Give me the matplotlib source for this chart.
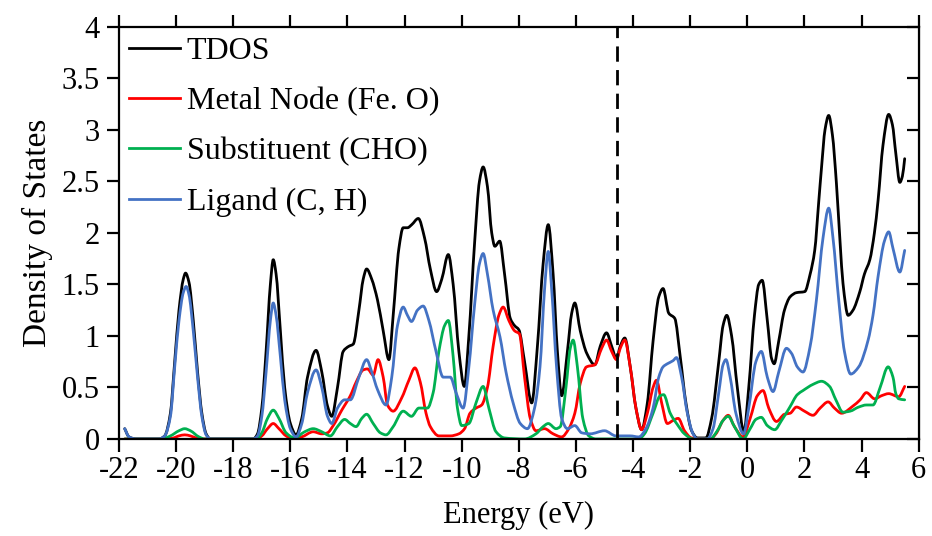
import matplotlib
matplotlib.use("Agg")
import matplotlib.pyplot as plt
import numpy as np
from matplotlib.path import Path
from matplotlib.patches import PathPatch
from matplotlib.lines import Line2D

plt.rcParams['font.family'] = ['Liberation Serif', 'DejaVu Serif']
plt.rcParams['axes.unicode_minus'] = False

# TDOS
e_tdos = [-21.8, -21.65, -21.4, -20.6, -20.4, -20.2, -20.05, -19.9, -19.75, -19.67, -19.55, -19.4, -19.25, -19.1, -18.95, -18.8,
          -17.3, -17.15, -17.0, -16.85, -16.7, -16.6, -16.5, -16.35, -16.2, -16.0, -15.8, -15.6, -15.4, -15.1, -14.9, -14.7,
          -14.55, -14.35, -14.15, -13.95, -13.8, -13.6, -13.45, -13.33, -13.15, -12.95, -12.75, -12.55, -12.4, -12.2, -12.05,
          -11.9, -11.75, -11.52, -11.3, -11.1, -10.88, -10.7, -10.47, -10.3, -10.1, -9.91, -9.75, -9.55, -9.38, -9.25, -9.1,
          -8.95, -8.84, -8.67, -8.5, -8.3, -8.15, -8.0, -7.8, -7.55, -7.35, -7.15, -6.97, -6.8, -6.65, -6.5, -6.3, -6.15, -6.04,
          -5.85, -5.62, -5.34, -5.15, -4.93, -4.75, -4.58, -4.45, -4.29, -4.1, -3.9, -3.7, -3.5, -3.3, -3.1, -2.95, -2.75, -2.54,
          -2.35, -2.15, -1.95, -1.75, -1.45, -1.25, -1.0, -0.85, -0.72, -0.55, -0.35, -0.12, 0.05, 0.25, 0.4, 0.52, 0.7, 0.85,
          0.94, 1.1, 1.3, 1.5, 1.72, 2.01, 2.2, 2.36, 2.5, 2.6, 2.72, 2.85, 2.98, 3.12, 3.25, 3.35, 3.53, 3.7, 3.94, 4.1, 4.29,
          4.45, 4.58, 4.75, 4.95, 5.08, 5.2, 5.34, 5.43, 5.51]
tdos = [0.10, 0.02, 0.0, 0.0, 0.03, 0.25, 0.75, 1.25, 1.55, 1.61, 1.52, 1.15, 0.65, 0.25, 0.05, 0.0,
        0.0, 0.05, 0.3, 0.85, 1.5, 1.74, 1.6, 1.05, 0.5, 0.15, 0.04, 0.2, 0.6, 0.86, 0.65, 0.32,
        0.22, 0.5, 0.85, 0.9, 0.92, 1.25, 1.55, 1.65, 1.55, 1.35, 1.05, 0.77, 1.2, 1.85, 2.05,
        2.05, 2.08, 2.14, 1.95, 1.65, 1.43, 1.55, 1.79, 1.5, 0.85, 0.51, 1.0, 1.9, 2.5, 2.64, 2.45,
        2.0, 1.87, 1.92, 1.6, 1.17, 1.1, 1.06, 0.75, 0.35, 0.9, 1.7, 2.08, 1.6, 0.85, 0.42, 0.85, 1.22, 1.32,
        1.05, 0.83, 0.72, 0.9, 1.03, 0.9, 0.78, 0.9, 0.98, 0.7, 0.3, 0.09, 0.35, 0.95, 1.38, 1.46, 1.22, 1.17,
        0.8, 0.35, 0.08, 0.01, 0.01, 0.2, 0.75, 1.1, 1.2, 1.0, 0.5, 0.07, 0.5, 1.2, 1.5, 1.54, 1.15, 0.78,
        0.73, 0.95, 1.25, 1.38, 1.42, 1.43, 1.6, 1.83, 2.3, 2.64, 3.0, 3.14, 2.95, 2.48, 1.9, 1.51, 1.2, 1.25, 1.43, 1.6, 1.74,
        2.0, 2.32, 2.85, 3.15, 3.05, 2.77, 2.49, 2.55, 2.72]

# Metal Node (Fe. O)
e_metal = [-21.8, -20.4, -20.1, -19.9, -19.7, -19.5, -19.3, -19.1, -17.2, -17.0, -16.8, -16.6, -16.4, -16.15, -15.9, -15.6,
           -15.2, -14.9, -14.7, -14.5, -14.2, -13.9, -13.7, -13.45, -13.3, -13.1, -12.93, -12.75, -12.6, -12.4, -12.1, -11.85,
           -11.64, -11.45, -11.25, -11.1, -10.8, -10.4, -10.1, -9.9, -9.71, -9.5, -9.3, -9.1, -8.9, -8.7, -8.55, -8.35, -8.15,
           -7.98, -7.8, -7.6, -7.4, -7.1, -6.8, -6.5, -6.25, -6.04, -5.85, -5.63, -5.34, -5.1, -4.93, -4.75, -4.58, -4.45,
           -4.29, -4.1, -3.9, -3.7, -3.5, -3.3, -3.18, -3.0, -2.8, -2.6, -2.42, -2.2, -1.95, -1.3, -1.1, -0.85, -0.67, -0.45,
           -0.15, 0.1, 0.35, 0.55, 0.75, 1.02, 1.3, 1.5, 1.72, 2.0, 2.3, 2.55, 2.83, 3.05, 3.3, 3.7, 3.95, 4.17, 4.46, 4.7,
           4.95, 5.3, 5.51]
metal = [0.0, 0.0, 0.01, 0.03, 0.04, 0.03, 0.01, 0.0, 0.0, 0.03, 0.1, 0.15, 0.1, 0.03, 0.0, 0.02,
         0.07, 0.05, 0.06, 0.13, 0.28, 0.42, 0.55, 0.67, 0.68, 0.62, 0.77, 0.6, 0.33, 0.27, 0.4, 0.57,
         0.69, 0.55, 0.25, 0.12, 0.03, 0.03, 0.05, 0.1, 0.25, 0.3, 0.33, 0.5, 0.9, 1.2, 1.28, 1.15, 1.05,
         1.02, 0.6, 0.2, 0.08, 0.1, 0.05, 0.02, 0.1, 0.25, 0.54, 0.7, 0.72, 0.88, 0.96, 0.85, 0.77, 0.88,
         0.96, 0.7, 0.3, 0.09, 0.25, 0.5, 0.57, 0.35, 0.15, 0.18, 0.2, 0.08, 0.01, 0.0, 0.05, 0.18, 0.23, 0.12,
         0.02, 0.2, 0.42, 0.47, 0.3, 0.17, 0.24, 0.25, 0.31, 0.27, 0.23, 0.3, 0.36, 0.3, 0.25, 0.32, 0.38, 0.45, 0.39, 0.42,
         0.44, 0.41, 0.51]

# Substituent (CHO)
e_subst = [-21.8, -20.5, -20.2, -19.9, -19.7, -19.5, -19.2, -19.0, -17.2, -17.0, -16.8, -16.6, -16.4, -16.15, -15.85, -15.5,
           -15.2, -14.9, -14.6, -14.35, -14.1, -13.9, -13.7, -13.5, -13.33, -13.1, -12.85, -12.65, -12.4, -12.05, -11.76, -11.5,
           -11.2, -11.0, -10.8, -10.6, -10.47, -10.3, -10.15, -10.0, -9.75, -9.5, -9.25, -9.05, -8.8, -8.5, -7.8, -7.4, -7.15,
           -6.97, -6.7, -6.55, -6.35, -6.2, -6.1, -5.95, -5.76, -5.55, -5.3, -3.8, -3.6, -3.3, -3.05, -2.93, -2.7, -2.45, -2.2,
           -1.9, -1.3, -1.05, -0.85, -0.67, -0.45, -0.15, 0.1, 0.3, 0.49, 0.7, 0.96, 1.2, 1.49, 1.75, 1.95, 2.3, 2.6, 2.88,
           3.1, 3.35, 3.6, 3.9, 4.17, 4.4, 4.65, 4.93, 5.1, 5.2, 5.3, 5.51]
subst = [0.0, 0.0, 0.03, 0.08, 0.1, 0.08, 0.02, 0.0, 0.0, 0.06, 0.2, 0.28, 0.2, 0.06, 0.01, 0.07,
         0.1, 0.07, 0.03, 0.12, 0.19, 0.15, 0.12, 0.2, 0.24, 0.15, 0.06, 0.04, 0.12, 0.27, 0.22, 0.3,
         0.3, 0.45, 0.85, 1.1, 1.15, 0.8, 0.3, 0.13, 0.15, 0.35, 0.51, 0.3, 0.07, 0.01, 0.0, 0.05, 0.12,
         0.15, 0.1, 0.12, 0.5, 0.88, 0.96, 0.7, 0.2, 0.03, 0.0, 0.0, 0.05, 0.25, 0.42, 0.43, 0.25, 0.14, 0.05,
         0.0, 0.0, 0.08, 0.18, 0.22, 0.12, 0.0, 0.1, 0.19, 0.21, 0.13, 0.09, 0.18, 0.31, 0.43, 0.47, 0.53, 0.56, 0.51,
         0.38, 0.26, 0.27, 0.31, 0.33, 0.33, 0.5, 0.7, 0.6, 0.44, 0.39, 0.38]

# Ligand (C, H)
e_lig = [-21.8, -21.65, -21.4, -20.6, -20.4, -20.2, -20.05, -19.9, -19.75, -19.65, -19.55, -19.4, -19.25, -19.1, -18.95, -18.8,
         -17.3, -17.15, -17.0, -16.85, -16.7, -16.6, -16.5, -16.35, -16.2, -16.0, -15.8, -15.6, -15.4, -15.1, -14.9, -14.7,
         -14.55, -14.35, -14.1, -13.9, -13.6, -13.33, -13.15, -12.95, -12.65, -12.45, -12.25, -12.05, -11.9, -11.76, -11.55,
         -11.35, -11.15, -10.9, -10.65, -10.4, -10.2, -9.95, -9.75, -9.55, -9.38, -9.25, -9.1, -8.9, -8.66, -8.45, -8.2,
         -7.95, -7.7, -7.45, -7.26, -7.1, -6.97, -6.85, -6.68, -6.5, -6.3, -6.04, -5.8, -5.5, -5.0, -4.6, -4.1, -3.8, -3.55,
         -3.3, -3.1, -2.95, -2.8, -2.6, -2.48, -2.3, -2.1, -1.9, -1.75, -1.4, -1.2, -1.0, -0.85, -0.75, -0.6, -0.4, -0.13,
         0.05, 0.3, 0.49, 0.7, 0.9, 1.1, 1.37, 1.55, 1.75, 1.95, 2.2, 2.42, 2.65, 2.85, 3.0, 3.2, 3.4, 3.62, 3.9, 4.23, 4.4,
         4.58, 4.8, 4.95, 5.1, 5.34, 5.51]
lig = [0.10, 0.02, 0.0, 0.0, 0.03, 0.22, 0.7, 1.15, 1.42, 1.48, 1.4, 1.05, 0.6, 0.22, 0.04, 0.0,
       0.0, 0.03, 0.22, 0.65, 1.15, 1.32, 1.2, 0.8, 0.38, 0.1, 0.02, 0.15, 0.45, 0.67, 0.5, 0.22,
       0.15, 0.3, 0.38, 0.38, 0.6, 0.77, 0.65, 0.48, 0.33, 0.6, 1.1, 1.28, 1.2, 1.14, 1.25,
       1.29, 1.15, 0.85, 0.6, 0.6, 0.45, 0.3, 0.7, 1.3, 1.7, 1.8, 1.6, 1.25, 0.99, 0.65, 0.35,
       0.15, 0.1, 0.3, 0.7, 1.45, 1.82, 1.45, 0.7, 0.2, 0.1, 0.13, 0.06, 0.05, 0.08, 0.03, 0.03, 0.02, 0.1,
       0.3, 0.6, 0.7, 0.73, 0.76, 0.79, 0.6, 0.25, 0.05, 0.0, 0.0, 0.1, 0.45, 0.72, 0.77, 0.6, 0.25, 0.05,
       0.3, 0.75, 0.85, 0.6, 0.46, 0.65, 0.88, 0.83, 0.7, 0.65, 0.9, 1.35, 1.95, 2.24, 1.95, 1.35, 0.85, 0.63, 0.7, 0.96, 1.2,
       1.58, 1.92, 2.01, 1.85, 1.62, 1.83]

fermi = -4.56


def smooth_path(x, y):
    # smoothed line through the points (monotone cubic, drawn as bezier segments)
    x = np.asarray(x, float)
    y = np.asarray(y, float)
    h = np.diff(x)
    d = np.diff(y) / h
    m = np.zeros(len(x))
    m[0], m[-1] = d[0], d[-1]
    for i in range(1, len(x) - 1):
        if d[i - 1] * d[i] <= 0:
            m[i] = 0.0
        else:
            w1 = 2 * h[i] + h[i - 1]
            w2 = h[i] + 2 * h[i - 1]
            m[i] = (w1 + w2) / (w1 / d[i - 1] + w2 / d[i])
    verts = [(x[0], y[0])]
    codes = [Path.MOVETO]
    for i in range(len(x) - 1):
        verts += [(x[i] + h[i] / 3, y[i] + m[i] * h[i] / 3),
                  (x[i + 1] - h[i] / 3, y[i + 1] - m[i + 1] * h[i] / 3),
                  (x[i + 1], y[i + 1])]
        codes += [Path.CURVE4] * 3
    return Path(verts, codes)


fig = plt.figure(figsize=(9.32, 5.36), dpi=100)
ax = fig.add_axes([0.1277, 0.181, 0.858, 0.769])

lw = 2.0
series = [(e_tdos, tdos, 'black', 'TDOS'),
          (e_metal, metal, '#ff0000', 'Metal Node (Fe. O)'),
          (e_subst, subst, '#00b050', 'Substituent (CHO)'),
          (e_lig, lig, '#4472c4', 'Ligand (C, H)')]
handles = []
for ex, ey, c, lab in series:
    ax.add_patch(PathPatch(smooth_path(ex, ey), fill=False, edgecolor=c, lw=lw, capstyle='round', joinstyle='round'))
    handles.append(Line2D([], [], color=c, lw=lw, label=lab))

ax.plot([fermi, fermi], [0, 4], color='black', lw=2.0, dashes=(5.5, 3))

ax.set_xlim(-22, 6)
ax.set_ylim(0, 4)
ax.set_xticks(range(-22, 7, 2))
ax.set_yticks([0, 0.5, 1, 1.5, 2, 2.5, 3, 3.5, 4])
ax.set_yticklabels(['0', '0.5', '1', '1.5', '2', '2.5', '3', '3.5', '4'])

for s in ax.spines.values():
    s.set_linewidth(1.6)

ax.tick_params(axis='both', labelsize=22, width=1.6)
ax.tick_params(axis='x', direction='out', length=9, top=True, pad=3)
ax.tick_params(axis='y', direction='out', length=9, pad=5)
ax2 = ax.secondary_yaxis('right')
ax2.set_yticks([0, 0.5, 1, 1.5, 2, 2.5, 3, 3.5, 4])
ax2.tick_params(direction='in', length=9, width=1.6, labelright=False)

ax.set_xlabel('Energy (eV)', fontsize=22, labelpad=12)
ax.set_ylabel('Density of States', fontsize=24, labelpad=6)

ax.legend(handles=handles, loc='upper left', frameon=False, fontsize=23, handlelength=1.6,
          handletextpad=0.22, labelspacing=0.66, borderaxespad=0.0, borderpad=0.3)

fig.savefig('out.png', dpi=100)
